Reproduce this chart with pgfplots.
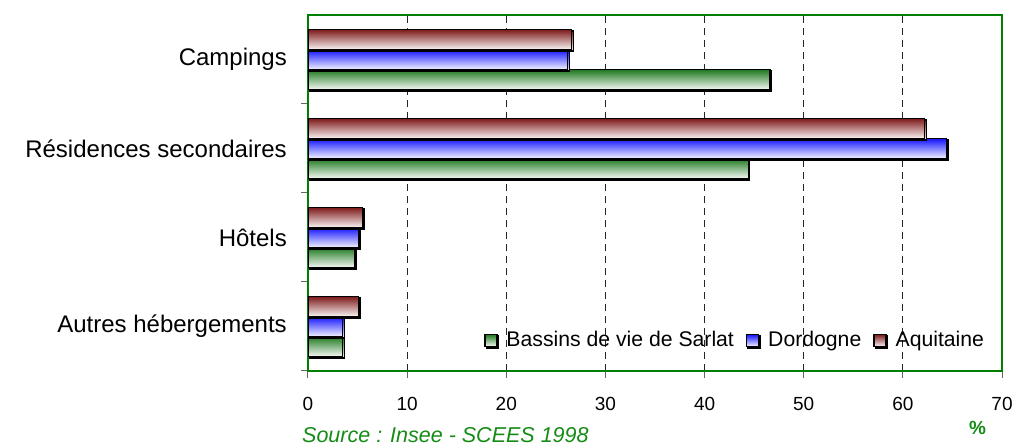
\documentclass[border=0pt]{standalone}
\usepackage{fontspec}
\setmainfont{Liberation Sans}
\usepackage{pgfplots}
\pgfplotsset{compat=1.18}
\usetikzlibrary{shadows}
\definecolor{sarlat}{RGB}{30,120,30}
\definecolor{dordogne}{RGB}{20,20,255}
\definecolor{aquit}{RGB}{125,25,25}
\definecolor{frame}{RGB}{0,128,0}
\definecolor{srcgreen}{RGB}{20,140,20}
\newcommand\fs[1]{\fontsize{#1}{#1}\selectfont}
\pgfplotsset{
  sa/.style={bar shift=-0.225, top color=sarlat, bottom color=sarlat!4},
  do/.style={bar shift=0, top color=dordogne, bottom color=dordogne!5},
  aq/.style={bar shift=0.225, top color=aquit, bottom color=aquit!4},
}
\begin{document}
\begin{tikzpicture}
\useasboundingbox (0,0) rectangle (1017pt,446pt);
\begin{axis}[
  at={(308pt,75pt)}, anchor=south west,
  scale only axis, width=694pt, height=356pt,
  xmin=0, xmax=70, ymin=-0.5, ymax=3.5,
  xtick={0,10,...,70},
  ytick={-0.5,0.5,1.5,2.5},
  yticklabels={},
  extra y ticks={0,1,2,3},
  extra y tick labels={Autres hébergements, Hôtels, Résidences secondaires, Campings},
  extra y tick style={major tick length=0pt},
  tick pos=left,
  tick align=outside,
  major tick length=7pt,
  tick style={black!60, line width=1pt},
  /pgf/number format/assume math mode=true,
  xticklabel style={font=\fs{19}, anchor=north, inner sep=0pt, yshift=-19pt},
  yticklabel style={font=\fs{24}, anchor=east, inner sep=0pt, xshift=-21pt},
  axis line style={draw=frame, line width=1.5pt},
  xmajorgrids,
  major grid style={black!85, dash pattern=on 7pt off 5pt, line width=1pt},
  legend columns=3,
  legend style={at={(0.2536,0.0871)}, anchor=west, draw=none, fill=none,
    inner sep=0pt, font=\fs{21.2}, column sep=0pt,
    /tikz/every even column/.append style={column sep=12pt},
    nodes={inner sep=0pt}},
  legend image code/.code={\draw[#1] (0pt,-6.5pt) rectangle (12pt,5.5pt);},
  every axis plot/.append style={xbar, bar width=0.225, draw=black, line width=1.3pt,
    drop shadow={shadow xshift=1.5pt, shadow yshift=-1.5pt, opacity=1, fill=black}},
]
% Campings (with legend entries)
\addplot[sa] coordinates {(46.6,3)};
\addlegendentry{\hspace{9pt}Bassins de vie de Sarlat}
\addplot[do] coordinates {(26.2,3)};
\addlegendentry{\hspace{9pt}Dordogne}
\addplot[aq] coordinates {(26.6,3)};
\addlegendentry{\hspace{9pt}Aquitaine}
% Résidences secondaires
\addplot[sa, forget plot] coordinates {(44.4,2)};
\addplot[do, forget plot] coordinates {(64.4,2)};
\addplot[aq, forget plot] coordinates {(62.2,2)};
% Hôtels
\addplot[sa, forget plot] coordinates {(4.7,1)};
\addplot[do, forget plot] coordinates {(5.1,1)};
\addplot[aq, forget plot] coordinates {(5.5,1)};
% Autres hébergements
\addplot[sa, forget plot] coordinates {(3.5,0)};
\addplot[do, forget plot] coordinates {(3.5,0)};
\addplot[aq, forget plot] coordinates {(5.1,0)};
\end{axis}
\node[anchor=base west, inner sep=0pt, text=srcgreen, font=\fs{21.5}\itshape] at (302pt,3pt) {Source : Insee - SCEES 1998};
\node[anchor=base, inner sep=0pt, text=srcgreen, font=\fs{19}\bfseries] at (977.5pt,11pt) {\%};
\end{tikzpicture}
\end{document}
